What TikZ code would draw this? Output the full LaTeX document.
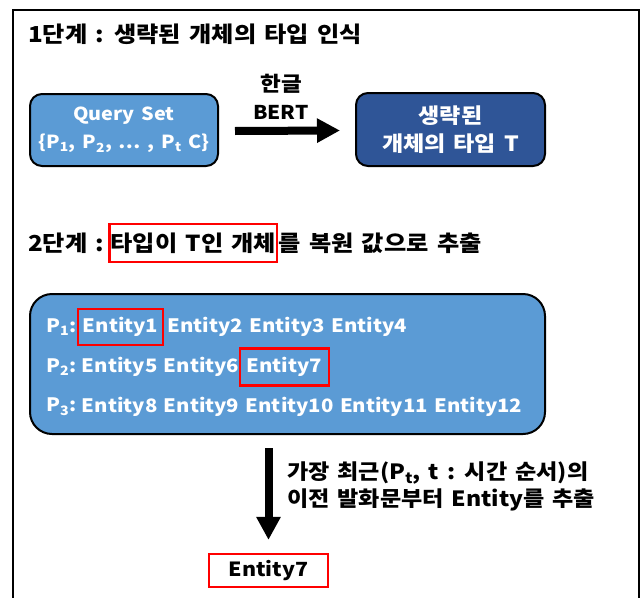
\documentclass[tikz,border=0pt]{standalone}
\usepackage{fontspec}
\setmainfont{Noto Sans CJK KR}[FakeStretch=1.1,WordSpace=1.5]
\usetikzlibrary{arrows.meta,positioning}
\definecolor{lblue}{HTML}{5B9BD5}
\definecolor{dblue}{HTML}{2F5597}
\definecolor{rd}{HTML}{FF0000}
\tikzset{
  lbox/.style={draw=black,line width=2pt,rounded corners=12pt,fill=lblue},
  dbox/.style={draw=black,line width=2pt,rounded corners=12pt,fill=dblue},
  wtxt/.style={text=white,font=\fontsize{18}{28}\selectfont\bfseries,align=center},
  ktxt/.style={text=white,font=\fontsize{21}{28}\selectfont\bfseries,align=center},
  btxt/.style={text=black,font=\fontsize{22}{27}\selectfont\bfseries},
  ent/.style={text=white,font=\fontsize{18.5}{22}\selectfont\bfseries,inner xsep=3pt,inner ysep=0pt,minimum height=36pt,anchor=west},
  rbox/.style={draw=rd,line width=2.2pt},
  bigarrow/.style={line width=8pt,-{Triangle[length=23pt,width=23pt]}}
}
\begin{document}
\begin{tikzpicture}[x=1pt,y=1pt]
\useasboundingbox (0,0) rectangle (642,-597);
\begin{scope}
\clip (0,0) rectangle (642,-597);
\draw[line width=2.5pt] (13,-10) rectangle (639,-620);
\end{scope}
% stage 1
\node[btxt,anchor=west,inner sep=0pt] (t1) at (28,-34) {1단계 : 생략된 개체의 타입 인식};
\node[lbox,minimum width=188pt,minimum height=72pt] (qs) at (124,-130) {};
\node[wtxt] (qst) at (qs.center) {Query Set\\\{P\textsubscript{1}, P\textsubscript{2}, … , P\textsubscript{t} C\}};
\node[dbox,minimum width=189pt,minimum height=73pt] (ty) at (450.5,-129.5) {};
\node[ktxt] (tyt) at (ty.center) {생략된\\개체의 타입 T};
\draw[bigarrow] (qs.east)+(16,-1) coordinate (a1) -- ([xshift=-15pt,yshift=-1pt]ty.west) coordinate (a2);
\node[btxt,inner sep=0pt,font=\fontsize{20.5}{24}\selectfont\bfseries] (hg) at (281,-84) {한글};
\node[btxt,inner sep=0pt,font=\fontsize{19}{24}\selectfont\bfseries] (bert) at (281,-112) {BERT};
% stage 2
\node[btxt,anchor=west,inner sep=0pt] (t2a) at (28,-243) {2단계 :};
\node[btxt,rbox,anchor=west,inner xsep=1pt,inner ysep=0pt,minimum height=38pt] (t2b) at ([xshift=4pt]t2a.east) {타입이 T인 개체};
\node[btxt,anchor=west,inner sep=0pt] (t2c) at (t2b.east) {를 복원 값으로 추출};
\node[lbox,minimum width=515pt,minimum height=140pt,rounded corners=22pt] (big) at (287.5,-364) {};
% rows
\node[ent,inner xsep=0pt] (p1) at (46,-327) {P\textsubscript{1}:};
\node[ent,rbox,inner xsep=5pt] (e1) at ([xshift=0pt]p1.east) {Entity1};
\node[ent] (e2) at (e1.east) {Entity2};
\node[ent] (e3) at (e2.east) {Entity3};
\node[ent] (e4) at (e3.east) {Entity4};
\node[ent,inner xsep=0pt] (p2) at (46,-367) {P\textsubscript{2}:};
\node[ent] (e5) at ([xshift=2pt]p2.east) {Entity5};
\node[ent] (e6) at (e5.east) {Entity6};
\node[ent,rbox,inner xsep=7pt,minimum height=37pt] (e7) at ([xshift=-4pt]e6.east) {Entity7};
\node[ent,inner xsep=0pt] (p3) at (46,-407) {P\textsubscript{3}:};
\node[ent] (e8) at ([xshift=2pt]p3.east) {Entity8};
\node[ent] (e9) at (e8.east) {Entity9};
\node[ent] (e10) at (e9.east) {Entity10};
\node[ent] (e11) at (e10.east) {Entity11};
\node[ent] (e12) at (e11.east) {Entity12};
% result
\node[btxt,rbox,minimum width=119pt,minimum height=33pt,inner sep=0pt,font=\fontsize{19.5}{24}\selectfont\bfseries] (res) at (268.5,-570.5) {Entity7};
\draw[bigarrow] ([xshift=-19pt,yshift=-13pt]big.south) coordinate (d1) -- ([yshift=13pt]res.north) coordinate (d2);
\node[btxt,anchor=west,align=left,inner sep=0pt,font=\fontsize{21}{27}\selectfont\bfseries] (desc) at (287,-486.5) {가장 최근(P\textsubscript{t}, t : 시간 순서)의\\이전 발화문부터 Entity를 추출};
\end{tikzpicture}
\end{document}
